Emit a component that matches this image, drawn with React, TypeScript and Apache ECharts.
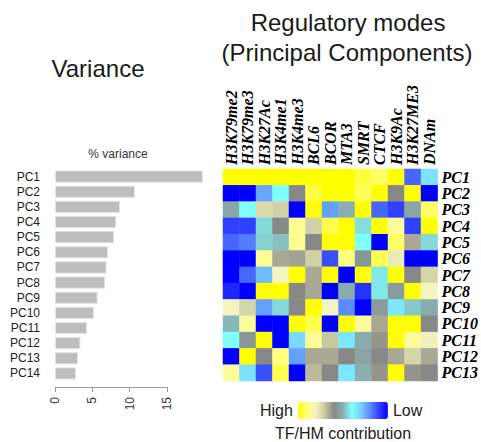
import React, { useEffect, useRef } from "react";
import * as echarts from "echarts";

const pcNames = ["PC1", "PC2", "PC3", "PC4", "PC5", "PC6", "PC7", "PC8", "PC9", "PC10", "PC11", "PC12", "PC13", "PC14"];
const variance = [19.8, 10.7, 8.7, 8.2, 7.9, 7.1, 6.9, 6.7, 5.7, 5.2, 4.3, 3.4, 3.1, 2.8];
const varianceTicks = [0, 5, 10, 15];

const marks = ["H3K79me2", "H3K79me3", "H3K27Ac", "H3K4me1", "H3K4me3", "BCL6", "BCOR", "MTA3", "SMRT", "CTCF", "H3K9Ac", "H3K27ME3", "DNAm"];
const modeRows = ["PC1", "PC2", "PC3", "PC4", "PC5", "PC6", "PC7", "PC8", "PC9", "PC10", "PC11", "PC12", "PC13"];

// contribution score per PC row (0 = low / blue, 10 = high / yellow)
const pc1 = [10, 10, 10, 10, 10, 10, 10, 10, 9.5, 9.2, 10, 1.5, 3.4];
const pc2 = [0, 0, 2.4, 4, 6, 9.5, 10, 10, 9.3, 10, 6, 10, 0];
const pc3 = [5.2, 4, 7.4, 7.2, 0, 10, 2.3, 5, 10, 1.5, 1, 5.3, 9.2];
const pc4 = [1, 1, 4.5, 6, 8.7, 7.2, 9.4, 10, 4.4, 10, 8.6, 1, 10];
const pc5 = [1.5, 1.8, 4.6, 4.8, 8.7, 6, 10, 10, 4, 0, 9.2, 6.5, 4.5];
const pc6 = [0, 0, 8.7, 6.5, 6.4, 7.2, 1.2, 9, 5.6, 9.4, 7.8, 0, 0];
const pc7 = [0, 1.5, 2.7, 8, 10, 6.5, 10, 0, 10, 4.3, 10, 6, 7.3];
const pc8 = [0.6, 0, 10, 10, 6, 6.5, 0, 5.1, 0.8, 4.3, 5.5, 10, 8];
const pc9 = [8, 7.3, 2.3, 4.5, 6, 10, 8, 2, 0, 5.5, 3.5, 4.7, 5.1];
const pc10 = [4.9, 8.6, 0, 0, 10, 9.4, 0, 10, 8.6, 6.5, 10, 10, 6];
const pc11 = [4, 5.6, 10, 0, 3.2, 8.6, 7, 3.5, 5.1, 6.2, 10, 8.6, 7.9];
const pc12 = [0, 10, 6, 9, 2.3, 6.5, 6.5, 6, 5.3, 6, 6.5, 7.3, 6.5];
const pc13 = [8.6, 3.4, 1.2, 9.4, 0, 6.8, 6, 3.5, 5, 6.2, 10, 6.2, 6];
const contribution = [pc1, pc2, pc3, pc4, pc5, pc6, pc7, pc8, pc9, pc10, pc11, pc12, pc13];

const palette = ["#0000ff", "#3040ff", "#5a8cff", "#78d0ff", "#80ffff", "#88b0b0", "#888888", "#c8c8a0", "#f4f4c0", "#ffff80", "#ffff00"];

export default function App() {
  const ref = useRef<HTMLDivElement>(null);
  useEffect(() => {
    if (!ref.current) return;
    const chart = echarts.init(ref.current, null, { renderer: "svg" });
    const heat: number[][] = [];
    contribution.forEach((row, r) => row.forEach((v, c) => heat.push([c, r, v])));
    const serifLabel = {
      fontFamily: "Liberation Serif",
      fontStyle: "italic",
      fontWeight: "bold",
      fontSize: 16,
      color: "#000",
    };
    chart.setOption({
      animation: false,
      backgroundColor: "#ffffff",
      grid: [
        { left: 55, top: 169, width: 112, height: 212 },
        { left: 223, top: 169, width: 216, height: 212 },
      ],
      xAxis: [
        {
          type: "value",
          gridIndex: 0,
          min: varianceTicks[0],
          max: varianceTicks[varianceTicks.length - 1],
          interval: 5,
          position: "bottom",
          offset: 6,
          axisLine: { show: true, lineStyle: { color: "#999" } },
          axisTick: { show: true, length: 5, lineStyle: { color: "#999" } },
          axisLabel: { rotate: 90, margin: 10, fontSize: 12, color: "#333", fontFamily: "Liberation Sans" },
          splitLine: { show: false },
        },
        {
          type: "category",
          gridIndex: 1,
          position: "top",
          data: marks,
          axisLine: { show: false },
          axisTick: { show: false },
          axisLabel: { ...serifLabel, rotate: -90, margin: 4, interval: 0, align: "left", verticalAlign: "middle", hideOverlap: false },
          splitArea: { show: false },
        },
      ],
      yAxis: [
        {
          type: "category",
          gridIndex: 0,
          inverse: true,
          data: pcNames,
          axisLine: { show: false },
          axisTick: { show: false },
          axisLabel: { margin: 15, fontSize: 12, color: "#222", fontFamily: "Liberation Sans", interval: 0 },
        },
        {
          type: "category",
          gridIndex: 1,
          position: "right",
          inverse: true,
          data: modeRows,
          axisLine: { show: false },
          axisTick: { show: false },
          axisLabel: { ...serifLabel, margin: 4, interval: 0 },
          splitArea: { show: false },
        },
      ],
      visualMap: {
        type: "continuous",
        seriesIndex: 1,
        min: 0,
        max: 10,
        orient: "horizontal",
        inverse: true,
        calculable: false,
        itemWidth: 17,
        itemHeight: 90,
        text: ["High", "Low"],
        textGap: 5,
        left: 245,
        top: 387,
        textStyle: { fontSize: 16, color: "#222", fontFamily: "Liberation Sans" },
        inRange: { color: palette },
      },
      series: [
        {
          type: "bar",
          xAxisIndex: 0,
          yAxisIndex: 0,
          data: variance,
          barCategoryGap: "20%",
          clip: false,
          itemStyle: { color: "#bdbdbd", borderColor: "#e2e2e2", borderWidth: 1 },
        },
        {
          type: "heatmap",
          xAxisIndex: 1,
          yAxisIndex: 1,
          data: heat,
          itemStyle: { borderWidth: 0 },
        },
      ],
      graphic: [
        { type: "text", x: 98, y: 68, style: { text: "Variance", font: "24px 'Liberation Sans'", fill: "#1a1a1a", textAlign: "center", textVerticalAlign: "middle" } },
        { type: "text", x: 348, y: 22, style: { text: "Regulatory modes", font: "24px 'Liberation Sans'", fill: "#1a1a1a", textAlign: "center", textVerticalAlign: "middle" } },
        { type: "text", x: 347, y: 52, style: { text: "(Principal Components)", font: "24px 'Liberation Sans'", fill: "#1a1a1a", textAlign: "center", textVerticalAlign: "middle" } },
        { type: "text", x: 118, y: 154, style: { text: "% variance", font: "12px 'Liberation Sans'", fill: "#333", textAlign: "center", textVerticalAlign: "middle" } },
        { type: "text", x: 343, y: 433, style: { text: "TF/HM contribution", font: "16px 'Liberation Sans'", fill: "#1a1a1a", textAlign: "center", textVerticalAlign: "middle" } },
      ],
    });
    return () => chart.dispose();
  }, []);
  return <div ref={ref} style={{ position: "fixed", left: 0, top: 0, width: 481, height: 442, background: "#fff" }} />;
}
